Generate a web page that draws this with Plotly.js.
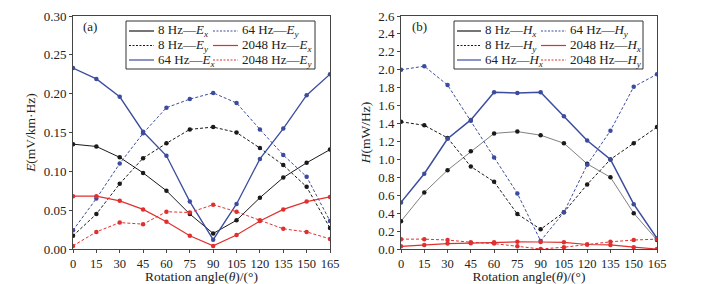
<!DOCTYPE html>
<html><head><meta charset="utf-8">
<script src="https://cdn.plot.ly/plotly-3.0.1.min.js"></script>
<style>body{margin:0;background:#fff}#c{width:709px;height:284px}</style>
</head><body><div id="c"></div>
<script>
const angles = [0,15,30,45,60,75,90,105,120,135,150,165];
// Panel (a): E (mV/km·Hz)
const e8x    = [0.135,0.132,0.118,0.098,0.075,0.045,0.020,0.037,0.066,0.092,0.111,0.128];
const e8y    = [0.017,0.045,0.084,0.117,0.136,0.154,0.157,0.150,0.130,0.108,0.080,0.027];
const e64x   = [0.233,0.219,0.196,0.151,0.120,0.061,0.012,0.058,0.116,0.155,0.198,0.225];
const e64y   = [0.024,0.065,0.110,0.149,0.182,0.193,0.201,0.188,0.154,0.121,0.093,0.036];
const e2048x = [0.068,0.068,0.062,0.051,0.035,0.017,0.004,0.018,0.036,0.051,0.061,0.067];
const e2048y = [0.004,0.022,0.034,0.032,0.048,0.047,0.057,0.048,0.037,0.026,0.022,0.013];
// Panel (b): H (mW/Hz)
const h8x    = [0.31,0.63,0.88,1.09,1.29,1.31,1.27,1.18,0.95,0.80,0.40,0.10];
const h8y    = [1.42,1.38,1.24,0.92,0.75,0.39,0.22,0.41,0.72,1.00,1.18,1.36];
const h64x   = [0.52,0.84,1.23,1.44,1.75,1.74,1.75,1.48,1.21,1.00,0.50,0.12];
const h64y   = [2.00,2.04,1.83,1.43,1.02,0.62,0.09,0.41,0.94,1.32,1.81,1.95];
const h2048x = [0.03,0.045,0.06,0.065,0.075,0.08,0.078,0.075,0.05,0.045,0.02,0.00];
const h2048y = [0.11,0.11,0.10,0.075,0.06,0.03,0.00,0.02,0.05,0.08,0.10,0.11];
// Legend labels
const legendA = ['8 Hz—<i>E<sub>x</sub></i>','8 Hz—<i>E<sub>y</sub></i>','64 Hz—<i>E<sub>x</sub></i>',
                 '64 Hz—<i>E<sub>y</sub></i>','2048 Hz—<i>E<sub>x</sub></i>','2048 Hz—<i>E<sub>y</sub></i>'];
const legendB = ['8 Hz—<i>H<sub>x</sub></i>','8 Hz—<i>H<sub>y</sub></i>','64 Hz—<i>H<sub>x</sub></i>',
                 '64 Hz—<i>H<sub>y</sub></i>','2048 Hz—<i>H<sub>x</sub></i>','2048 Hz—<i>H<sub>y</sub></i>'];

const BLACK='#1a1a1a', GRAY='#606060', BLUE='#3b4c9e', RED='#e0302e';
const FONT='Liberation Serif, Times New Roman, serif';
const DASH='3px,2px';

function series(y, color, dash, xa, ya, w, mcolor){
  return {x: angles, y: y, xaxis: xa, yaxis: ya, mode: 'lines+markers', showlegend: false,
    line: {color: color, width: w || 1, dash: dash}, marker: {color: mcolor || color, size: 4.5}, hoverinfo: 'skip'};
}
const traces = [
  series(e8x, BLACK, 'solid', 'x', 'y'),
  series(e8y, BLACK, DASH, 'x', 'y'),
  series(e64x, BLUE, 'solid', 'x', 'y', 1.3),
  series(e64y, BLUE, DASH, 'x', 'y'),
  series(e2048x, RED, 'solid', 'x', 'y', 1.2),
  series(e2048y, RED, DASH, 'x', 'y'),
  series(h8x, GRAY, 'solid', 'x2', 'y2', 0.8, BLACK),
  series(h8y, BLACK, DASH, 'x2', 'y2'),
  series(h64x, BLUE, 'solid', 'x2', 'y2', 1.5),
  series(h64y, BLUE, DASH, 'x2', 'y2'),
  series(h2048x, RED, 'solid', 'x2', 'y2', 1.2),
  series(h2048y, RED, DASH, 'x2', 'y2')
];

// pixel -> paper helpers (plot area: x 73..657, y 16..249)
const PL=73, PW=584, PT=16, PH=233;
const px = v => (v-PL)/PW;
const py = v => 1-(v-PT)/PH;

const shapes = [], annotations = [];
const legStyles = [[BLACK,'solid'],[BLACK,'2px,1.5px'],[BLUE,'solid'],[BLUE,'2px,1.5px'],[RED,'solid'],[RED,'2px,1.5px']];
function buildLegend(labels, box, cols){
  shapes.push({type:'rect', xref:'paper', yref:'paper', x0:px(box[0]), x1:px(box[1]), y0:py(box[3]), y1:py(box[2]),
    line:{color:'#333', width:1}, fillcolor:'rgba(255,255,255,0)'});
  const rows = [31, 45.5, 60];
  labels.forEach((lab, i) => {
    const c = cols[Math.floor(i/3)], r = rows[i%3];
    const st = legStyles[i];
    shapes.push({type:'line', xref:'paper', yref:'paper', x0:px(c[0]), x1:px(c[1]), y0:py(r), y1:py(r),
      line:{color:st[0], width:1.2, dash:st[1]}});
    annotations.push({text: lab, xref:'paper', yref:'paper', x:px(c[1]+2), y:py(r), xanchor:'left', yanchor:'middle',
      showarrow:false, font:{family:FONT, size:13, color:'#222'}});
  });
}
buildLegend(legendA, [126, 315, 21, 69], [[129,154],[213,238]]);
buildLegend(legendB, [454, 643, 21, 69], [[457,481],[541,566]]);
annotations.push({text:'(a)', xref:'paper', yref:'paper', x:px(81), y:py(27), xanchor:'left', yanchor:'middle', showarrow:false, font:{family:FONT, size:13, color:'#222'}});
annotations.push({text:'(b)', xref:'paper', yref:'paper', x:px(410), y:py(27), xanchor:'left', yanchor:'middle', showarrow:false, font:{family:FONT, size:13, color:'#222'}});

const axBase = {showgrid: false, zeroline: false, showline: true, mirror: true, linecolor: '#444', linewidth: 1,
  ticks: 'outside', ticklen: 3, tickcolor: '#444', tickfont: {family: FONT, size: 13, color: '#222'}};
const xBase = Object.assign({}, axBase, {range: [0,165], tickvals: angles, ticktext: angles.map(String),
  tickfont: {family: FONT, size: 12.5, color: '#222'},
  title: {text: 'Rotation angle(<i>θ</i>)/(°)', font: {family: FONT, size: 13.5, color: '#222'}, standoff: 0}});

const layout = {
  width: 709, height: 284, margin: {l: 73, r: 52, t: 16, b: 35},
  paper_bgcolor: '#fff', plot_bgcolor: '#fff', font: {family: FONT}, showlegend: false,
  xaxis: Object.assign({}, xBase, {domain: [0, px(330)], anchor: 'y'}),
  xaxis2: Object.assign({}, xBase, {domain: [px(401), 1], anchor: 'y2'}),
  yaxis: Object.assign({}, axBase, {range: [0, 0.30], dtick: 0.05, tickformat: '.2f', anchor: 'x',
    title: {text: '<i>E</i>(mV/km·Hz)', font: {family: FONT, size: 13.5, color: '#222'}, standoff: 4}}),
  yaxis2: Object.assign({}, axBase, {range: [0, 2.6], dtick: 0.2, tickformat: '.1f', anchor: 'x2',
    title: {text: '<i>H</i>(mW/Hz)', font: {family: FONT, size: 13.5, color: '#222'}, standoff: 4}}),
  shapes: shapes, annotations: annotations
};
Plotly.newPlot('c', traces, layout, {staticPlot: true, displayModeBar: false});
</script></body></html>
